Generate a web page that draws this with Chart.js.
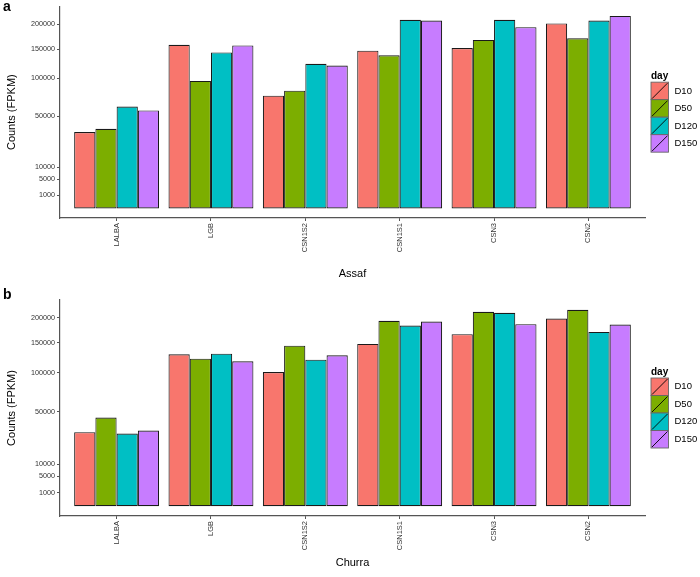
<!DOCTYPE html>
<html>
<head>
<meta charset="utf-8">
<script src="https://cdn.jsdelivr.net/npm/chart.js@4.4.1/dist/chart.umd.min.js"></script>
<style>
  body { margin: 0; background: #fff; }
  #wrapA { position: absolute; left: 0; top: 0; width: 700px; height: 288px; }
  #wrapB { position: absolute; left: 0; top: 288px; width: 700px; height: 289px; }
</style>
</head>
<body>
<div id="wrapA"><canvas id="chartA"></canvas></div>
<div id="wrapB"><canvas id="chartB"></canvas></div>
<script>
//? Données (Counts FPKM)

const categories = ["LALBA", "LGB", "CSN1S2", "CSN1S1", "CSN3", "CSN2"];
const days = ["D10", "D50", "D120", "D150"];
const dayColors = ["#F8766D", "#7CAE00", "#00BFC4", "#C77CFF"];

const assafD10 = [34400, 158100, 75100, 146900, 151900, 202100];
const assafD50 = [37400, 96100, 81800, 138500, 167800, 171100];
const assafD120 = [61300, 143900, 123500, 210200, 210200, 208600];
const assafD150 = [56700, 157000, 120600, 208600, 194200, 219000];

const churraD10 = [30800, 129800, 101300, 148200, 166400, 198200];
const churraD50 = [44200, 122500, 145100, 193400, 212600, 217100];
const churraD120 = [29700, 131000, 120800, 183700, 210500, 171000];
const churraD150 = [32200, 118100, 128100, 191900, 186400, 185700];

const countTicks = [1000, 5000, 10000, 50000, 100000, 150000, 200000];

//? -------------------------------------------------

Chart.defaults.font.family = "'Liberation Sans', Arial, sans-serif";
Chart.defaults.color = "#4d4d4d";

const axisColor = "#555555";

//? Légende "day" + étiquette de panneau

const legendDayPlugin = {
  id: "legendDay",
  afterDraw(chart, args, opts) {
    const { ctx, chartArea } = chart;
    const cy = (chartArea.top + chartArea.bottom) / 2;
    const x0 = 651;
    const key = 17.5;
    ctx.save();
    ctx.fillStyle = "#000";
    ctx.textBaseline = "middle";
    ctx.font = "bold 10px 'Liberation Sans', Arial, sans-serif";
    ctx.fillText("day", x0, cy - 36);
    ctx.font = "9.5px 'Liberation Sans', Arial, sans-serif";
    chart.data.datasets.forEach((ds, i) => {
      const y = cy - 30 + i * key;
      ctx.fillStyle = ds.backgroundColor;
      ctx.fillRect(x0, y, key, key);
      ctx.strokeStyle = "#666666";
      ctx.lineWidth = 0.9;
      ctx.strokeRect(x0, y, key, key);
      ctx.strokeStyle = "#000";
      ctx.lineWidth = 0.9;
      ctx.beginPath();
      ctx.moveTo(x0 + 1, y + key - 1);
      ctx.lineTo(x0 + key - 1, y + 1);
      ctx.stroke();
      ctx.fillStyle = "#000";
      ctx.fillText(ds.label, x0 + key + 6, y + key / 2);
    });
    ctx.font = "bold 14px 'Liberation Sans', Arial, sans-serif";
    ctx.textBaseline = "top";
    ctx.fillText(opts.tag, 3, 0);
    ctx.restore();
  },
};

//? Construction d'un graphique (échelle racine carrée)

const construireGraphique = (canvasId, series, titreX, padTop, hauteurAxeX) => {
  const maxSqrt = Math.sqrt(Math.max(...series.flat()));

  const datasets = series.map((valeurs, i) => ({
    label: days[i],
    data: valeurs.map((v, j) => ({ x: j + 1, y: Math.sqrt(v) })),
    backgroundColor: dayColors[i],
    borderColor: "#1a1a1a",
    borderWidth: 1.1,
    borderSkipped: false,
    categoryPercentage: 0.9,
    barPercentage: 1.0,
  }));

  const options = {
    responsive: true,
    maintainAspectRatio: false,
    animation: false,
    layout: { padding: { top: padTop, right: 55, left: 0, bottom: 0 } },
    plugins: {
      legend: { display: false },
      tooltip: { enabled: false },
      legendDay: { tag: canvasId === "chartA" ? "a" : "b" },
    },
    scales: {
      x: {
        type: "linear",
        min: 0.4,
        max: 6.6,
        offset: false,
        afterBuildTicks: (scale) => {
          scale.ticks = categories.map((c, i) => ({ value: i + 1 }));
        },
        afterFit: (scale) => {
          scale.height = hauteurAxeX;
        },
        ticks: {
          autoSkip: false,
          minRotation: 90,
          maxRotation: 90,
          padding: 2,
          font: { size: 7.5 },
          color: "#333333",
          callback: (v) => categories[Math.round(v) - 1],
        },
        grid: {
          display: true,
          offset: false,
          drawOnChartArea: false,
          drawTicks: true,
          tickLength: 3,
          color: axisColor,
        },
        border: { display: true, color: axisColor, width: 1.2 },
        title: {
          display: true,
          text: titreX,
          color: "#000",
          font: { size: 11 },
          padding: { top: 0, bottom: 7 },
        },
      },
      y: {
        type: "linear",
        min: -0.05 * maxSqrt,
        max: 1.05 * maxSqrt,
        afterBuildTicks: (scale) => {
          scale.ticks = countTicks.map((t) => ({ value: Math.sqrt(t) }));
        },
        afterFit: (scale) => {
          scale.width = 60;
        },
        ticks: {
          padding: 2,
          font: { size: 7.2 },
          color: "#333333",
          callback: (v) => String(Math.round(v * v)),
        },
        grid: {
          display: true,
          drawOnChartArea: false,
          drawTicks: true,
          tickLength: 3,
          color: axisColor,
        },
        border: { display: true, color: axisColor, width: 1.2 },
        title: {
          display: true,
          text: "Counts (FPKM)",
          color: "#000",
          font: { size: 11 },
          padding: { top: 5, bottom: 0 },
        },
      },
    },
  };

  const ctx = document.getElementById(canvasId).getContext("2d");
  return new Chart(ctx, {
    type: "bar",
    data: { datasets },
    options,
    plugins: [legendDayPlugin],
  });
};

//? Lancer la construction des deux panneaux

(function constructionFigure() {
  try {
    construireGraphique("chartA", [assafD10, assafD50, assafD120, assafD150], "Assaf", 3, 70);
    construireGraphique("chartB", [churraD10, churraD50, churraD120, churraD150], "Churra", 12, 61);
  } catch (error) {
    console.error("Erreur construction figure :", error);
  }
})();
</script>
</body>
</html>
